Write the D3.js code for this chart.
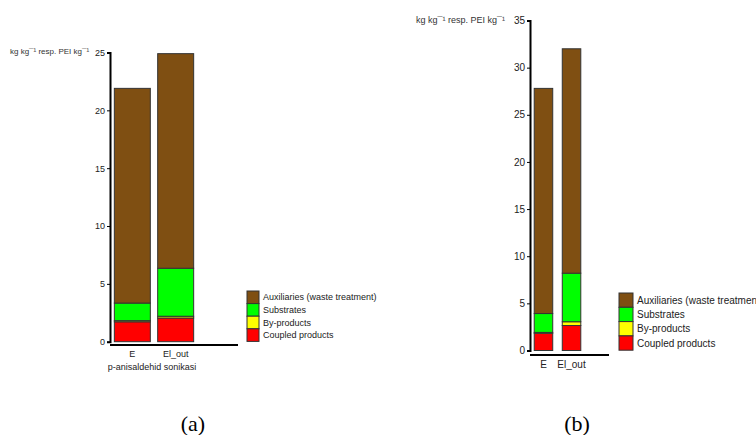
<!DOCTYPE html>
<html><head><meta charset="utf-8">
<script src="https://cdn.jsdelivr.net/npm/d3@7"></script>
<style>body{margin:0;background:#fff}svg{display:block}</style>
</head><body>
<svg id="c" width="756" height="435"></svg>
<script>
const categories = ["E", "EI_out"];
const categoryLabels = ["E", "El_out"];
const seriesNames = ["Coupled products", "By-products", "Substrates", "Auxiliaries (waste treatment)"];
const seriesColors = ["#ff0000", "#ffff00", "#00ff00", "#7f4f12"];
// panel (a): p-anisaldehid sonikasi
const aCoupled = [1.72, 2.05];
const aByproducts = [0.1, 0.15];
const aSubstrates = [1.52, 4.15];
const aAuxiliaries = [18.56, 18.55];
const aTicks = [0, 5, 10, 15, 20, 25];
// panel (b)
const bCoupled = [1.82, 2.65];
const bByproducts = [0.1, 0.4];
const bSubstrates = [2.0, 5.15];
const bAuxiliaries = [23.88, 23.8];
const bTicks = [0, 5, 10, 15, 20, 25, 30, 35];
const yLabel = "kg kg\u00AF\u00B9 resp. PEI kg\u00AF\u00B9";

const svg = d3.select("#c");

function panel(o) {
  const g = svg.append("g");
  const rows = categories.map((c, i) => ({cat: c, v: o.data.map(s => s[i])}));
  const y = d3.scaleLinear().domain([0, o.ymax]).range([o.y0, o.y1]);
  const x = d3.scaleBand().domain(categories).range([o.xl, o.xr]).paddingInner(o.pin).paddingOuter(o.pout);
  rows.forEach(r => {
    let acc = 0;
    r.v.forEach((v, k) => {
      g.append("rect")
        .attr("x", x(r.cat)).attr("width", x.bandwidth())
        .attr("y", y(acc + v)).attr("height", y(acc) - y(acc + v))
        .attr("fill", seriesColors[k]).attr("stroke", "#333").attr("stroke-width", 1);
      acc += v;
    });
  });
  // y axis
  const ya = d3.axisLeft(y).tickValues(o.ticks).tickSize(3).tickPadding(2);
  const yg = g.append("g").attr("transform", `translate(${o.axX},0)`).call(ya);
  yg.select(".domain").attr("stroke", "#000").attr("stroke-width", 2);
  yg.selectAll("text").attr("font-family", "Liberation Sans, Arial, sans-serif").attr("font-size", o.fs).attr("fill", "#222");
  // x axis
  const xa = d3.axisBottom(x).tickSize(0).tickPadding(6).tickFormat((d, i) => categoryLabels[i]);
  const xg = g.append("g").attr("transform", `translate(0,${o.axY})`).call(xa);
  xg.select(".domain").remove();
  g.append("line").attr("x1", o.axX).attr("x2", o.axEnd).attr("y1", o.axY).attr("y2", o.axY).attr("stroke", "#000").attr("stroke-width", 2);
  xg.selectAll("text").attr("font-family", "Liberation Sans, Arial, sans-serif").attr("font-size", o.fs).attr("fill", "#222");
  // y label
  g.append("text").attr("x", o.labX).attr("y", o.labY).text(yLabel)
    .attr("font-family", "Liberation Sans, Arial, sans-serif").attr("font-size", o.lfs).attr("fill", "#333");
  if (o.sub) g.append("text").attr("x", o.subX).attr("y", o.subY).attr("text-anchor", "middle").text(o.sub)
    .attr("font-family", "Liberation Sans, Arial, sans-serif").attr("font-size", o.fs).attr("fill", "#222");
  // legend
  const order = [3, 2, 1, 0];
  order.forEach((k, j) => {
    g.append("rect").attr("x", o.legX).attr("y", o.legY + j * o.legH).attr("width", o.legW).attr("height", o.legH)
      .attr("fill", seriesColors[k]).attr("stroke", "#333").attr("stroke-width", 1);
    g.append("text").attr("x", o.legX + o.legW + 4).attr("y", o.legY + j * o.legH + o.legH / 2 + o.fs * 0.35)
      .text(seriesNames[k]).attr("font-family", "Liberation Sans, Arial, sans-serif").attr("font-size", o.fs).attr("fill", "#222");
  });
  // caption
  g.append("text").attr("x", o.capX).attr("y", 431).attr("text-anchor", "middle").text(o.cap)
    .attr("font-family", "Liberation Serif, Times New Roman, serif").attr("font-size", 22).attr("fill", "#000");
}

panel({
  data: [aCoupled, aByproducts, aSubstrates, aAuxiliaries], ymax: 25, ticks: aTicks,
  y0: 341.7, y1: 52.5, xl: 110, xr: 198, pin: 0.17, pout: 0.1,
  axX: 110, axY: 345, axEnd: 238, fs: 9, lfs: 8,
  labX: 10, labY: 54, sub: "p-anisaldehid sonikasi", subX: 152, subY: 370,
  legX: 247, legY: 291, legW: 12, legH: 12.6, cap: "(a)", capX: 193
});
panel({
  data: [bCoupled, bByproducts, bSubstrates, bAuxiliaries], ymax: 35, ticks: bTicks,
  y0: 350.5, y1: 20.5, xl: 530, xr: 585, pin: 0.34, pout: 0.15,
  axX: 530, axY: 355, axEnd: 609, fs: 10, lfs: 9,
  labX: 416, labY: 23, sub: null,
  legX: 619, legY: 293, legW: 14, legH: 14.3, cap: "(b)", capX: 577
});
</script>
</body></html>
